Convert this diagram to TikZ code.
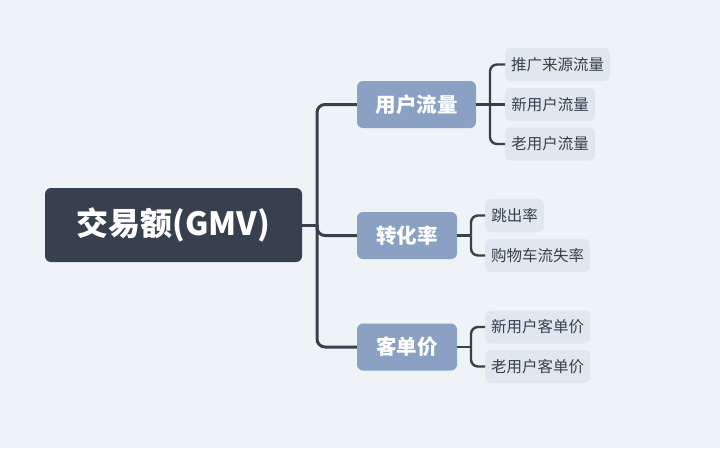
\documentclass[tikz,border=0pt]{standalone}
\usepackage{fontspec}
\setmainfont{Noto Sans CJK SC}
\usepackage{tikz}
\usetikzlibrary{positioning}

\definecolor{bgc}{HTML}{EDF3F7}
\definecolor{rootc}{HTML}{36404F}
\definecolor{subc}{HTML}{8AA1C4}
\definecolor{leafc}{HTML}{E1E7EF}
\definecolor{linec}{HTML}{36404F}

\tikzset{
  rootbox/.style={fill=rootc,text=white,rounded corners=6pt,inner sep=0pt,
    minimum width=257pt,minimum height=74pt,font=\fontsize{32}{36}\selectfont\bfseries},
  subbox/.style={fill=subc,text=white,rounded corners=6pt,inner sep=0pt,
    minimum height=47pt,font=\fontsize{20.5}{24}\selectfont\bfseries},
  leafbox/.style={fill=leafc,text=rootc,rounded corners=6pt,inner sep=0pt,
    minimum height=33pt,anchor=west,font=\fontsize{15.5}{18}\selectfont},
  link/.style={draw=linec,line width=3pt,rounded corners=8pt},
  twig/.style={draw=linec,line width=2.4pt,rounded corners=7pt}
}

\begin{document}
\begin{tikzpicture}[x=1pt,y=-1pt]
  \fill[bgc] (0,0) rectangle (720,448);

  % root and main branches
  \node[rootbox] (gmv) at (173.5,225) {交易额(GMV)};
  \node[subbox,minimum width=119pt] (yh) at (416.5,104.5) {用户流量};
  \node[subbox,minimum width=100pt] (zh) at (407,235.5) {转化率};
  \node[subbox,minimum width=100pt] (kd) at (407,347) {客单价};

  % leaves
  \node[leafbox,minimum width=105pt] (tg) at (505,64.5) {推广来源流量};
  \node[leafbox,minimum width=90pt] (xl) at (505,104.5) {新用户流量};
  \node[leafbox,minimum width=90pt] (ll) at (505,144) {老用户流量};
  \node[leafbox,minimum width=59pt] (tc) at (485,215.5) {跳出率};
  \node[leafbox,minimum width=105pt] (gw) at (485,255.5) {购物车流失率};
  \node[leafbox,minimum width=105pt] (xk) at (485,327) {新用户客单价};
  \node[leafbox,minimum width=105pt] (lk) at (485,366.5) {老用户客单价};

  % trunk
  \coordinate (hub) at (317,225);
  \draw[link] (gmv.east) -- (hub);
  \draw[link] (hub) |- (yh.west);
  \draw[link] (hub) |- (zh.west);
  \draw[link] (hub) |- (kd.west);

  % brackets
  \coordinate (b1) at (490,104.5);
  \draw[twig] (yh.east) -- (xl.west);
  \draw[twig] (b1) |- (tg.west);
  \draw[twig] (b1) |- (ll.west);

  \coordinate (b2) at (471,235.5);
  \draw[twig] (zh.east) -- (b2);
  \draw[twig] (b2) |- (tc.west);
  \draw[twig] (b2) |- (gw.west);

  \coordinate (b3) at (471,347);
  \draw[twig] (kd.east) -- (b3);
  \draw[twig] (b3) |- (xk.west);
  \draw[twig] (b3) |- (lk.west);
\end{tikzpicture}
\end{document}
